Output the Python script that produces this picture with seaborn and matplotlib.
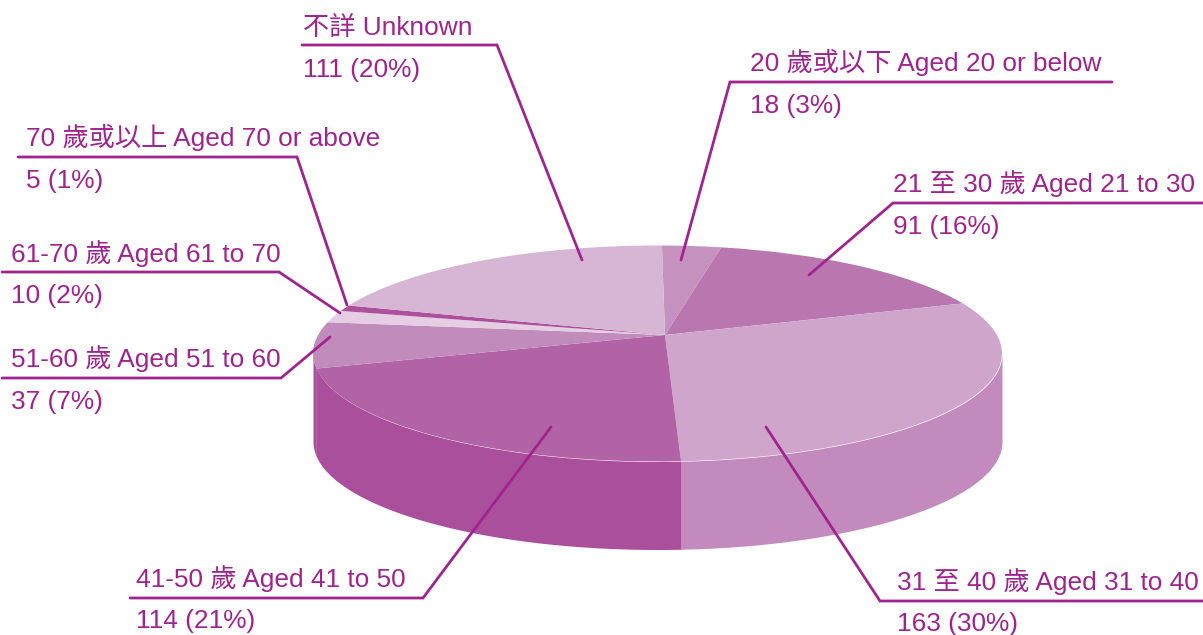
import numpy as np
import seaborn as sns
from matplotlib import pyplot as plt
from matplotlib.transforms import Affine2D, Transform

sns.set_theme(style="white")
plt.rcParams["font.family"] = ["Liberation Sans", "Noto Sans CJK TC"]

####################################
# data
####################################
counts = [18, 91, 163, 114, 37, 10, 5, 111]
names = [
    "20 歲或以下 Aged 20 or below",
    "21 至 30 歲 Aged 21 to 30",
    "31 至 40 歲 Aged 31 to 40",
    "41-50 歲 Aged 41 to 50",
    "51-60 歲 Aged 51 to 60",
    "61-70 歲 Aged 61 to 70",
    "70 歲或以上 Aged 70 or above",
    "不詳 Unknown",
]
shares = ["18 (3%)", "91 (16%)", "163 (30%)", "114 (21%)", "37 (7%)", "10 (2%)", "5 (1%)", "111 (20%)"]
top_colors = ["#C592C0", "#BA76AF", "#CFA5CB", "#B263A6", "#C18BBB", "#E5CDE3", "#AD509E", "#D6B5D5"]
side_colors = {2: "#C38BBD", 3: "#AA4F9C", 4: "#AA4F9C"}

# label x, first line baseline, second line baseline
text_pos = [
    (750, 71, 113),
    (893, 192, 234),
    (897, 590, 631),
    (136, 587, 628),
    (11, 367, 409),
    (11, 262, 303),
    (26, 146, 188),
    (303, 35, 77),
]
leaders = [
    [(1112, 82), (730, 82), (681, 260)],
    [(1203, 203), (893, 203), (809, 275)],
    [(1203, 601), (880, 601), (766, 427)],
    [(130, 598), (423, 598), (551, 427)],
    [(2, 378), (281, 378), (330, 337)],
    [(2, 272), (279, 272), (340, 313)],
    [(18, 157), (297, 157), (347, 305)],
    [(302, 45), (497, 45), (582, 260)],
]

PURPLE = "#A0248E"
START_ANGLE = 90.5
DEPTH = 88

# top ellipse of the disc, and where the pie's apex sits inside it
cx, cy, rx, ry = 657.5, 353.5, 344.5, 108
apex = np.array([(665 - cx) / rx, (cy - 335) / ry])


class ApexShift(Transform):
    """Projective map of the unit disc onto itself, sends the centre to apex."""

    input_dims = 2
    output_dims = 2

    def transform_non_affine(self, values):
        q = np.asarray(values, dtype=float)
        p2 = apex @ apex
        along = (q @ apex)[:, None] * apex / p2
        across = q - along
        return (apex + along + np.sqrt(1 - p2) * across) / (1 + q @ apex)[:, None]


####################################
# visualize
####################################
fig = plt.figure(figsize=(12.03, 6.35), dpi=100)
ax = fig.add_axes([0, 0, 1, 1])

to_pixels = Affine2D().scale(rx, -ry).translate(cx, cy)
disc = ApexShift() + to_pixels

wedges, _ = ax.pie(
    counts,
    colors=top_colors,
    startangle=START_ANGLE,
    counterclock=False,
    wedgeprops={"linewidth": 0, "zorder": 2},
)
for wedge in wedges:
    wedge.set_transform(disc + ax.transData)

# side wall, only the front arc of the rim shows
for i, color in side_colors.items():
    theta = np.radians(np.linspace(wedges[i].theta1, wedges[i].theta2, 300))
    rim = disc.transform(np.column_stack([np.cos(theta), np.sin(theta)]))
    rim = rim[rim[:, 1] >= cy]
    ax.fill_between(rim[:, 0], rim[:, 1], rim[:, 1] + DEPTH, color=color, linewidth=0, zorder=1)

for name, share, (x, y1, y2), line in zip(names, shares, text_pos, leaders):
    ax.text(x, y1, name, color=PURPLE, fontsize=18.9, va="baseline", ha="left", zorder=4)
    ax.text(x, y2, share, color=PURPLE, fontsize=18.9, va="baseline", ha="left", zorder=4)
    xs, ys = zip(*line)
    ax.plot(xs, ys, color=PURPLE, linewidth=2, solid_joinstyle="miter", zorder=3)

ax.set_xlim(0, 1203)
ax.set_ylim(635, 0)
ax.set_aspect("auto")
ax.axis("off")

fig.savefig("out.png", dpi=100)
